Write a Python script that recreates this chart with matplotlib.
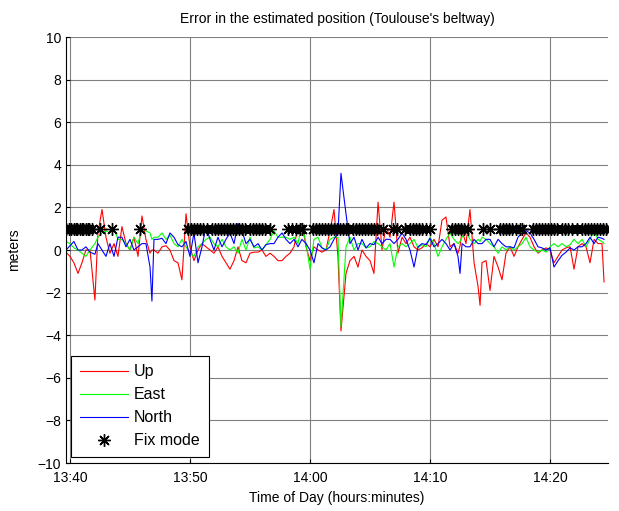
import numpy as np
import pandas as pd
import matplotlib
matplotlib.use("Agg")
import matplotlib.pyplot as plt
import matplotlib.dates as mdates

plt.rcParams['font.family'] = ['Liberation Sans', 'DejaVu Sans']

# zaman ekseni: 13:40'tan itibaren dakika
t_min = [-0.33, 0.0, 0.33, 0.67, 1.0, 1.33, 1.67, 2.08, 2.33, 2.67, 3.0, 3.33, 3.67, 4.0,
         4.33, 4.67, 5.0, 5.33, 5.67, 6.0, 6.33, 6.67, 6.83, 7.0, 7.33, 7.67, 8.0, 8.33,
         8.67, 9.0, 9.33, 9.67, 10.0, 10.33, 10.67, 11.0, 11.33, 11.67, 12.0, 12.33, 12.67,
         13.0, 13.33, 13.67, 14.0, 14.33, 14.67, 15.0, 15.33, 15.67, 16.0, 16.33, 16.67,
         17.0, 17.33, 17.67, 18.0, 18.33, 18.67, 19.0, 19.33, 19.67, 20.0, 20.33, 20.67,
         21.0, 21.33, 21.67, 22.0, 22.33, 22.58, 23.0, 23.33, 23.67, 24.0, 24.33, 24.67,
         25.0, 25.33, 25.67, 26.0, 26.33, 26.67, 27.0, 27.33, 27.67, 28.0, 28.33, 28.67,
         29.0, 29.33, 29.67, 30.0, 30.33, 30.67, 31.0, 31.33, 31.67, 32.0, 32.33, 32.5,
         32.67, 33.0, 33.33, 33.67, 34.0, 34.17, 34.33, 34.67, 35.0, 35.33, 35.67, 36.0,
         36.33, 36.67, 37.0, 37.33, 37.67, 38.0, 38.33, 38.67, 39.0, 39.33, 39.67, 40.0,
         40.33, 40.67, 41.0, 41.33, 41.67, 42.0, 42.33, 42.67, 43.0, 43.33, 43.67, 44.0,
         44.33, 44.5]

up = [-0.1, -0.3, -0.6, -1.1, -0.6, 0.0, 0.0, -2.35, 0.8, 1.9, 0.6, -0.15, 0.3, -0.3,
      1.1, 0.3, 0.0, 0.6, -0.3, 1.6, 0.5, -0.15, 0.0, 0.0, -0.15, 0.15, 0.2, 0.0,
      -0.5, -0.6, -1.4, 1.7, 0.15, -0.5, 0.0, 0.3, 0.15, 0.0, -0.15, 0.15, -0.3,
      -0.6, -0.9, -0.5, 0.15, -0.5, -0.6, -0.15, -0.1, -0.1, 0.0, -0.3, -0.15,
      -0.3, -0.5, -0.5, -0.3, -0.15, 0.15, 1.1, 1.25, 0.15, -0.5, 0.15, 0.0,
      -0.1, 0.0, 0.9, 1.9, -0.3, -3.8, -1.1, -0.5, -0.3, -0.8, 0.0, -0.3,
      -0.5, -1.1, 2.25, 0.0, 1.1, 0.6, 2.25, -0.15, 0.6, 0.3, 0.6, 0.15,
      0.0, 0.1, 0.3, 0.15, 0.5, 0.15, 1.4, 1.55, 0.15, 0.3, -0.15, 0.2,
      0.9, 0.3, 1.9, -0.6, -1.7, -2.6, -0.6, -0.5, -1.9, -0.3, -0.8, -1.4,
      -0.15, 0.15, -0.3, 0.15, 0.5, 0.8, 0.6, 0.15, -0.15, 0.0, 0.1, 0.0,
      -0.6, -0.3, 0.0, 0.1, 0.15, -0.9, 0.15, 0.3, 0.15, -0.6, 0.5, 0.3,
      0.3, -1.5]

east = [0.4, 0.3, 0.1, 0.0, -0.15, -0.3, 0.0, 0.3, 0.6, 0.8, 0.9, 0.8, 1.0, 0.5,
        0.5, 0.3, 0.0, 0.6, 0.3, 1.0, 0.9, 0.8, 0.5, 0.6, 0.6, 0.8, 0.5, 0.7,
        0.3, 0.15, 0.5, 0.15, -0.15, -0.3, 0.15, 0.3, 0.5, 0.6, 0.3, 0.15, 0.5,
        0.15, 0.0, 0.15, -0.15, 0.5, 0.0, 0.6, 0.1, 0.15, 0.0, 0.25, 0.5,
        0.9, 0.6, 0.6, 0.6, 0.5, 0.6, 0.3, 1.25, 0.3, -0.9, 0.5, 0.6,
        0.1, 0.0, 0.5, 0.6, 0.6, -3.6, 0.15, 0.6, 0.0, 0.3, 0.3, 0.1,
        0.15, 0.4, 0.3, 0.15, 0.0, 0.3, -0.8, 0.15, 0.3, 0.15, 0.3, 0.5,
        0.1, 0.25, 0.15, 0.6, 0.3, -0.3, 0.15, 0.5, 0.8, 0.5, 0.3, 0.4,
        0.6, 0.9, 0.5, 0.3, 0.5, 0.4, 0.6, 0.5, 0.3, 0.15, -0.15, 0.15,
        0.0, 0.15, 0.0, 0.15, 0.3, 0.6, 0.15, 0.0, -0.1, 0.0, -0.1, 0.15,
        0.3, 0.15, 0.3, 0.15, 0.25, 0.5, 0.3, 0.5, 0.15, 0.5, 0.9, 0.5,
        0.4, 0.3]

north = [0.0, 0.2, 0.4, 0.0, 0.0, 0.15, -0.1, -0.2, 0.3, 0.0, -0.3, 0.3, -0.3, 0.6,
         0.6, 0.15, 0.5, 0.0, 0.15, 0.3, 0.3, -0.8, -2.4, 0.5, 0.5, 0.55, 0.3, 0.8,
         0.6, 0.25, 0.15, 0.4, -0.3, 0.8, -0.6, 0.15, 1.1, 0.5, 0.0, 0.6, 0.15,
         0.5, 0.8, 0.3, 1.25, 0.9, 0.3, 0.5, 0.15, 0.3, 0.0, 0.25, 0.3,
         0.3, 0.6, 0.8, 0.5, 0.3, 0.5, 0.15, 0.5, 0.3, 0.0, -0.6, 0.3,
         0.1, 0.0, 0.15, 0.5, 0.8, 3.6, 1.7, 0.3, 0.6, 0.0, 0.5, 0.1,
         0.3, 0.25, 0.6, 0.3, 0.5, 0.5, 0.3, 0.5, 0.8, 0.5, 0.0, -0.8,
         0.15, 0.3, 0.25, 0.55, 0.15, 0.3, 0.5, 0.3, 0.0, 0.3, -0.3, -1.1,
         0.3, 0.15, 0.15, 0.5, 0.3, 0.3, 0.3, 0.5, 0.5, 0.15, 0.5, 0.3,
         0.15, 0.15, 0.1, 0.6, 0.8, 0.9, 0.8, 0.5, 0.15, 0.1, 0.0, 0.1,
         -0.8, -0.5, -0.25, -0.1, 0.1, 0.0, 0.15, 0.15, 0.3, 0.6, 0.3, 0.6,
         0.55, 0.5]

# Fix mode anları (y = 1)
fix_min = [-0.3, -0.1, 0.08, 0.33, 0.5, 0.58, 0.83, 1.0, 1.08, 1.33, 1.5, 1.58, 1.83,
           2.5, 3.5, 5.83,
           9.83, 10.08, 10.33, 10.58, 10.83, 11.08, 11.42,
           11.83, 12.08, 12.33, 12.58, 12.83, 13.08, 13.33, 13.58, 13.83, 14.08, 14.33,
           14.58, 15.0, 15.25, 15.5, 15.75, 16.0, 16.25, 16.67,
           18.17, 18.5, 18.83, 19.17, 19.33,
           20.25, 20.5, 20.75, 21.0, 21.25, 21.5, 21.75, 22.0, 22.25, 22.5, 22.75, 23.0, 23.17,
           23.58, 23.83, 24.08, 24.33, 24.58, 24.83, 25.08, 25.33, 25.58, 26.08,
           26.92, 27.25, 27.92,
           28.33, 28.58, 28.83, 29.08, 29.33, 29.67, 30.0,
           31.83, 32.08, 32.33, 32.58, 32.83, 33.17,
           34.42, 35.0,
           35.83, 36.08, 36.33, 36.58, 36.83, 37.17, 37.5, 37.67,
           38.58, 38.83, 39.08, 39.33, 39.58, 39.83, 40.08, 40.33, 40.58,
           41.0, 41.25, 41.5, 41.83, 42.25,
           42.67, 42.92, 43.17, 43.42, 43.67, 43.92, 44.17, 44.42, 44.67]
fix_val = [1.0] * len(fix_min)

base = pd.Timestamp('2010-01-01 13:40')
t = base + pd.to_timedelta(t_min, unit='m')
t_fix = base + pd.to_timedelta(fix_min, unit='m')

fig = plt.figure(figsize=(6.19, 5.11), dpi=100)
ax = fig.add_axes([66 / 619, 1 - 463 / 511, 542 / 619, 426 / 511])

ax.plot(t, up, color='#ff0000', lw=0.8, label='Up')
ax.plot(t, east, color='#00ff00', lw=0.8, label='East')
ax.plot(t, north, color='#0000ff', lw=0.8, label='North')
ax.plot(t_fix, fix_val, ls='none', marker=(8, 2, 0), ms=9, mew=1.0, color='black',
        label='Fix mode')

ax.set_xlim(base + pd.Timedelta(minutes=-0.33), base + pd.Timedelta(minutes=44.83))
ax.set_ylim(-10, 10)
ax.set_yticks(np.arange(-10, 11, 2))
ax.xaxis.set_major_locator(mdates.MinuteLocator(byminute=[0, 10, 20, 30, 40, 50]))
ax.xaxis.set_major_formatter(mdates.DateFormatter('%H:%M'))

ax.grid(True, color='#808080', lw=0.8)
ax.spines['top'].set_visible(False)
ax.spines['right'].set_visible(False)
ax.tick_params(direction='in', length=3, labelsize=10, colors='black')
ax.tick_params(axis='x', pad=6)

ax.set_title("Error in the estimated position (Toulouse's beltway)", fontsize=10, pad=10)
ax.set_xlabel('Time of Day (hours:minutes)', fontsize=10, labelpad=4)
ax.set_ylabel('meters', fontsize=10, labelpad=12)

leg = ax.legend(loc='lower left', bbox_to_anchor=(0.009, 0.014), borderaxespad=0,
                fancybox=False, edgecolor='black', framealpha=1, fontsize=11.5,
                handlelength=3.0, handletextpad=0.4, labelspacing=0.5, borderpad=0.55)
leg.get_frame().set_linewidth(0.8)

fig.savefig('out.png', dpi=100)
